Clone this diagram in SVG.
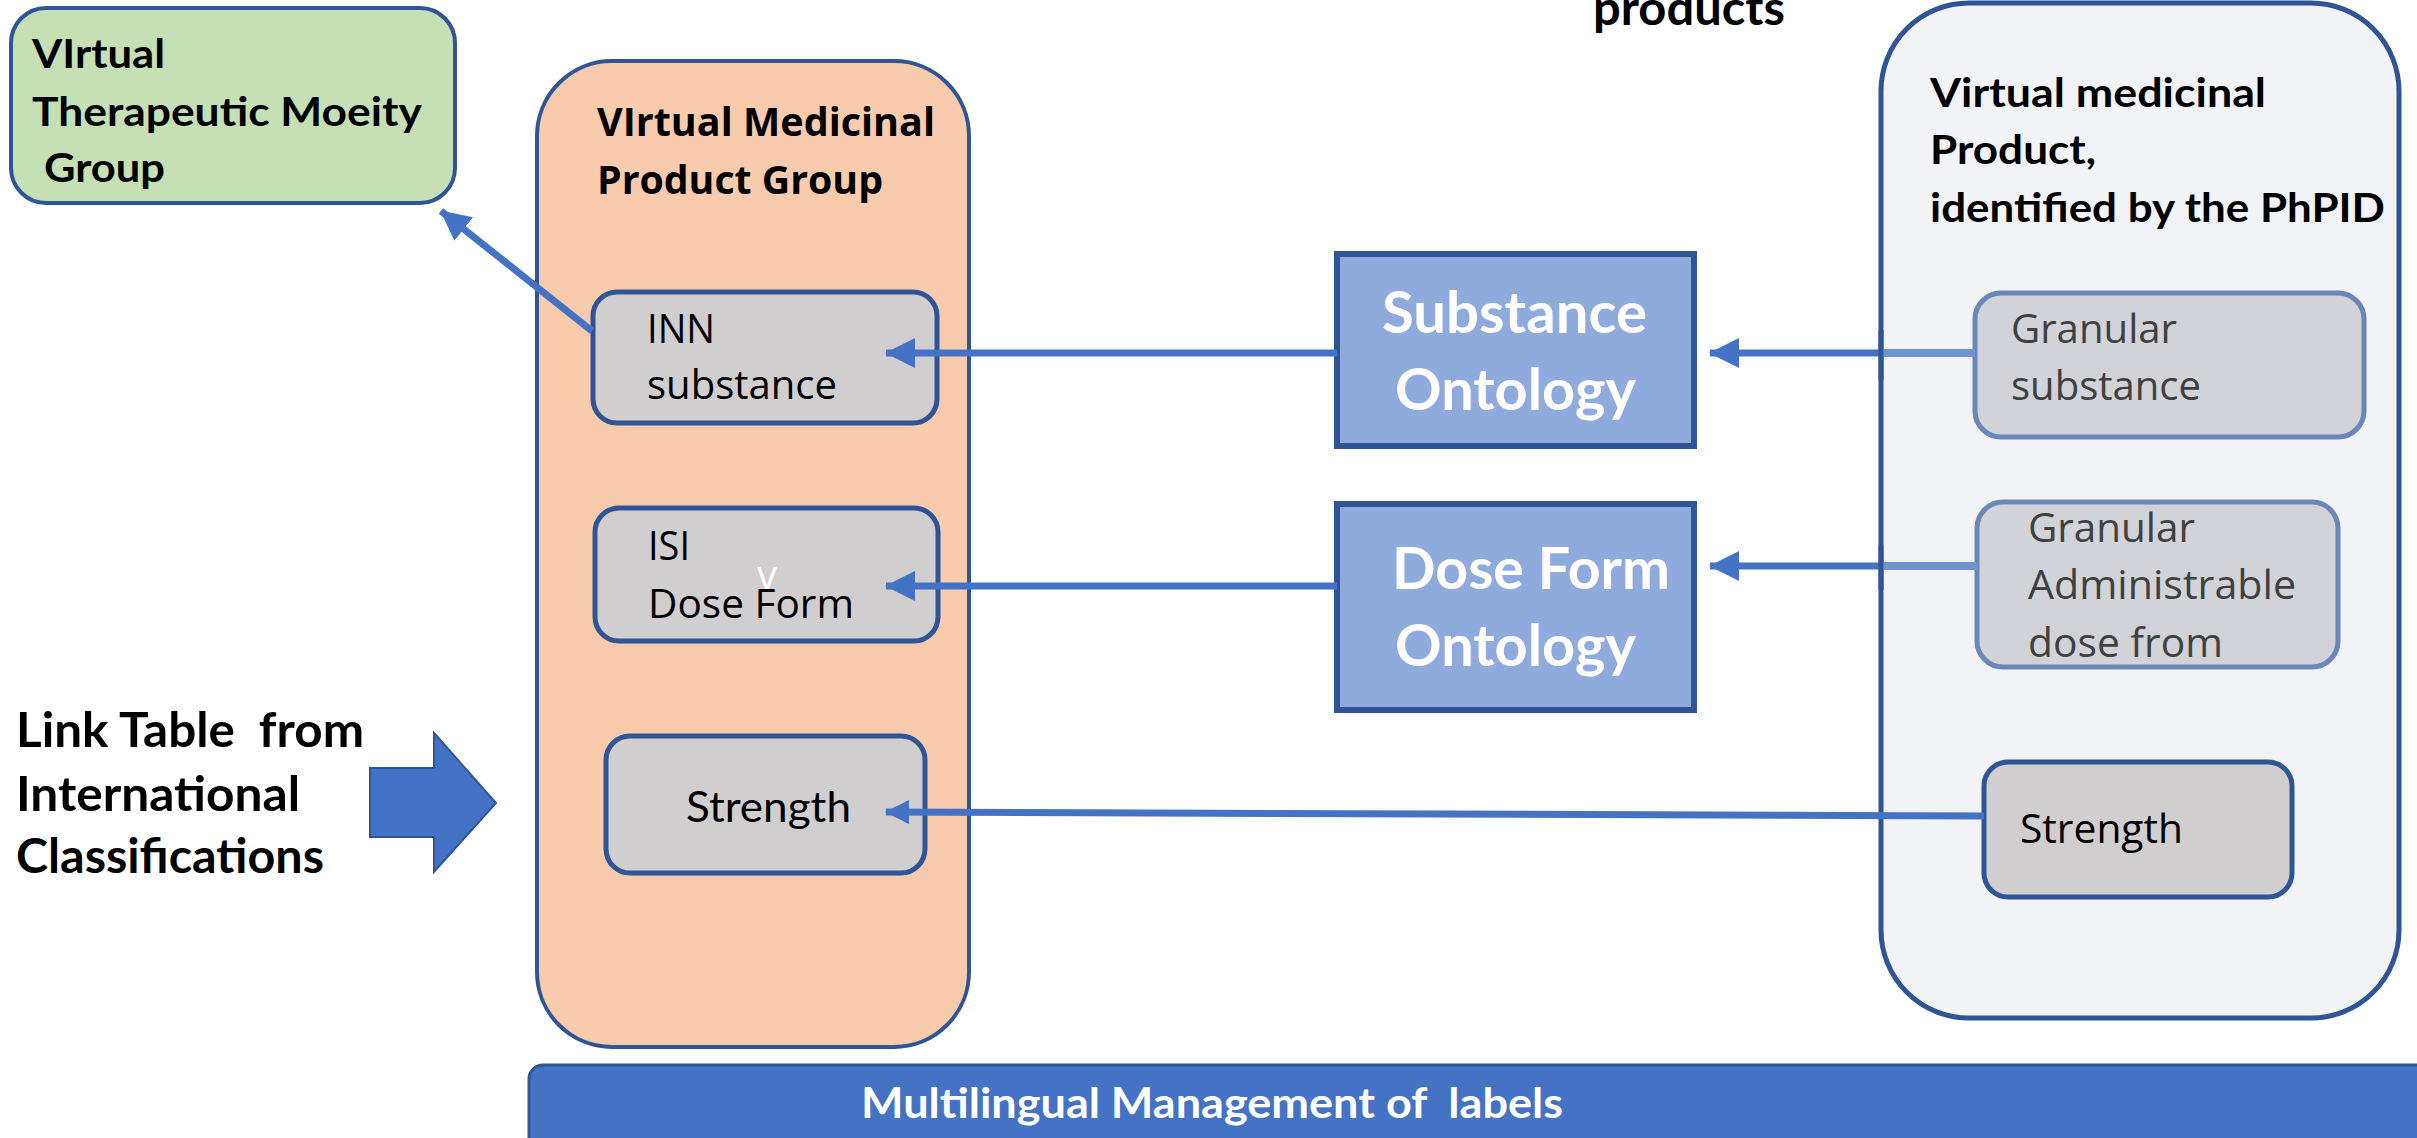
<svg xmlns="http://www.w3.org/2000/svg" width="2417" height="1138" viewBox="0 0 2417 1138">
<style>
.bg{fill:#ffffff}
.box{stroke:#2f5597;stroke-width:4}
.green{fill:#c5e0b4}
.orange{fill:#f8cbad}
.grey{fill:#d0cece;stroke:#2f5597;stroke-width:5}
.ghost{fill:#d1d3d8;stroke:#6a87b9;stroke-width:5}
.vmp{fill:#f2f3f7;stroke:#2f5597;stroke-width:5}
.onto{fill:#8faadc;stroke:#2f5597;stroke-width:6}
.cb{font-family:Lato,"Liberation Sans",sans-serif;font-weight:700;fill:#000}
.cr{font-family:Lato,"Liberation Sans",sans-serif;font-weight:400;fill:#000}
.sb{font-family:"Open Sans","Liberation Sans",sans-serif;font-weight:700;fill:#000}
.sr{font-family:"Open Sans","Liberation Sans",sans-serif;font-weight:400;fill:#000}
.dim{fill:#404040}
.white{fill:#ffffff}
.con{stroke:#4472c4;stroke-width:7;fill:none}
.con-light{stroke:#6f92d1;stroke-width:8;fill:none}
.head{fill:#4472c4}
.pre{white-space:pre}
</style>
<defs>
<marker id="ah" markerUnits="userSpaceOnUse" markerWidth="30" markerHeight="30" refX="29" refY="15" orient="auto" viewBox="0 0 30 30">
<path d="M0,0 L30,15 L0,30 z" class="head"/>
</marker>
<marker id="ahs" markerUnits="userSpaceOnUse" markerWidth="24" markerHeight="24" refX="23" refY="12" orient="auto" viewBox="0 0 24 24">
<path d="M0,0 L24,12 L0,24 z" class="head"/>
</marker>
</defs>
<rect class="bg" x="0" y="0" width="2417" height="1138"/>

<g id="top-label">
<text class="cb" x="1593" y="25" font-size="47" textLength="192" lengthAdjust="spacingAndGlyphs">products</text>
</g>

<g id="vtmg">
<rect class="box green" x="11" y="8" width="444" height="195" rx="35"/>
<text class="cb" font-size="41"><tspan x="32" y="68" textLength="133" lengthAdjust="spacingAndGlyphs">VIrtual</tspan><tspan x="32" y="126" textLength="390" lengthAdjust="spacingAndGlyphs">Therapeutic Moeity</tspan><tspan x="44" y="182" textLength="121" lengthAdjust="spacingAndGlyphs">Group</tspan></text>
</g>

<g id="vmpg">
<rect class="box orange" x="537" y="61" width="432" height="986" rx="75"/>
<text class="sb" font-size="39"><tspan x="597" y="136" textLength="338" lengthAdjust="spacingAndGlyphs">VIrtual Medicinal</tspan><tspan x="597" y="194" textLength="286" lengthAdjust="spacingAndGlyphs">Product Group</tspan></text>
</g>

<g id="inn-substance">
<rect class="grey" x="593" y="292" width="344" height="131" rx="24"/>
<text class="sr" font-size="40"><tspan x="647" y="343" textLength="68" lengthAdjust="spacingAndGlyphs">INN</tspan><tspan x="647" y="399" textLength="190" lengthAdjust="spacingAndGlyphs">substance</tspan></text>
</g>

<g id="isi-dose-form">
<rect class="grey" x="595" y="508" width="343" height="133" rx="24"/>
<text class="sr" font-size="40"><tspan x="648" y="560" textLength="42" lengthAdjust="spacingAndGlyphs">ISI</tspan><tspan x="648" y="618" textLength="206" lengthAdjust="spacingAndGlyphs">Dose Form</tspan></text>
<text class="sr white" x="757" y="589" font-size="40">v</text>
</g>

<g id="strength-left">
<rect class="grey" x="606" y="736" width="319" height="137" rx="24"/>
<text class="cr" x="686" y="822" font-size="42" textLength="165" lengthAdjust="spacingAndGlyphs">Strength</text>
</g>

<g id="link-table">
<text class="cb" font-size="47"><tspan class="pre" x="16" y="747" textLength="348" lengthAdjust="spacingAndGlyphs">Link Table  from</tspan><tspan x="16" y="811" textLength="284" lengthAdjust="spacingAndGlyphs">International</tspan><tspan x="16" y="873" textLength="308" lengthAdjust="spacingAndGlyphs">Classifications</tspan></text>
<polygon points="370,768 434,768 434,733 496,803 434,872 434,837 370,837" fill="#4472c4" stroke="#2f5597" stroke-width="2"/>
</g>

<g id="substance-ontology">
<rect class="onto" x="1337" y="254" width="357" height="192"/>
<text class="cb white" font-size="57"><tspan x="1382" y="333" textLength="265" lengthAdjust="spacingAndGlyphs">Substance</tspan><tspan x="1395" y="410" textLength="241" lengthAdjust="spacingAndGlyphs">Ontology</tspan></text>
</g>

<g id="dose-form-ontology">
<rect class="onto" x="1337" y="504" width="357" height="206"/>
<text class="cb white" font-size="57"><tspan x="1392" y="589" textLength="278" lengthAdjust="spacingAndGlyphs">Dose Form</tspan><tspan x="1395" y="666" textLength="241" lengthAdjust="spacingAndGlyphs">Ontology</tspan></text>
</g>

<g id="vmp">
<rect class="vmp" x="1881" y="3" width="518" height="1015" rx="88"/>
<text class="cb" font-size="40"><tspan x="1930" y="107" textLength="336" lengthAdjust="spacingAndGlyphs">Virtual medicinal</tspan><tspan x="1930" y="164" textLength="166" lengthAdjust="spacingAndGlyphs">Product,</tspan><tspan x="1930" y="222" textLength="455" lengthAdjust="spacingAndGlyphs">identified by the PhPID</tspan></text>
</g>

<g id="granular-substance">
<rect class="ghost" x="1975" y="293" width="389" height="144" rx="26"/>
<text class="sr dim" font-size="40"><tspan x="2011" y="343" textLength="166" lengthAdjust="spacingAndGlyphs">Granular</tspan><tspan x="2011" y="400" textLength="190" lengthAdjust="spacingAndGlyphs">substance</tspan></text>
</g>

<g id="granular-dose-form">
<rect class="ghost" x="1977" y="502" width="361" height="165" rx="26"/>
<text class="sr dim" font-size="40"><tspan x="2028" y="542" textLength="167" lengthAdjust="spacingAndGlyphs">Granular</tspan><tspan x="2028" y="599" textLength="268" lengthAdjust="spacingAndGlyphs">Administrable</tspan><tspan x="2028" y="657" textLength="195" lengthAdjust="spacingAndGlyphs">dose from</tspan></text>
</g>

<g id="strength-right">
<rect class="grey" x="1984" y="762" width="308" height="135" rx="24" stroke-width="6"/>
<text class="sr" x="2020" y="843" font-size="40" textLength="163" lengthAdjust="spacingAndGlyphs">Strength</text>
</g>

<g id="multilingual">
<rect x="529" y="1065" width="1960" height="120" rx="14" fill="#4472c4" stroke="#2f5597" stroke-width="3"/>
<text class="cb white pre" x="861" y="1118" font-size="42" textLength="702" lengthAdjust="spacingAndGlyphs">Multilingual Management of  labels</text>
</g>

<g id="connectors">
<line class="con" x1="592" y1="331" x2="441" y2="211" marker-end="url(#ah)"/>
<line class="con" x1="1337" y1="353" x2="886" y2="353" marker-end="url(#ah)"/>
<line class="con-light" x1="1975" y1="353" x2="1883" y2="353"/>
<line class="con" x1="1883" y1="353" x2="1710" y2="353" marker-end="url(#ah)"/>
<line class="con" x1="1337" y1="586" x2="886" y2="586" marker-end="url(#ah)"/>
<line class="con-light" x1="1977" y1="566" x2="1883" y2="566"/>
<line class="con" x1="1883" y1="566" x2="1710" y2="566" marker-end="url(#ah)"/>
<line class="con" x1="1984" y1="816" x2="886" y2="812" stroke-width="7" marker-end="url(#ahs)"/>
<line x1="1881" y1="330" x2="1881" y2="380" stroke="#2f5597" stroke-width="5"/>
<line x1="1881" y1="545" x2="1881" y2="590" stroke="#2f5597" stroke-width="5"/>
</g>
</svg>
